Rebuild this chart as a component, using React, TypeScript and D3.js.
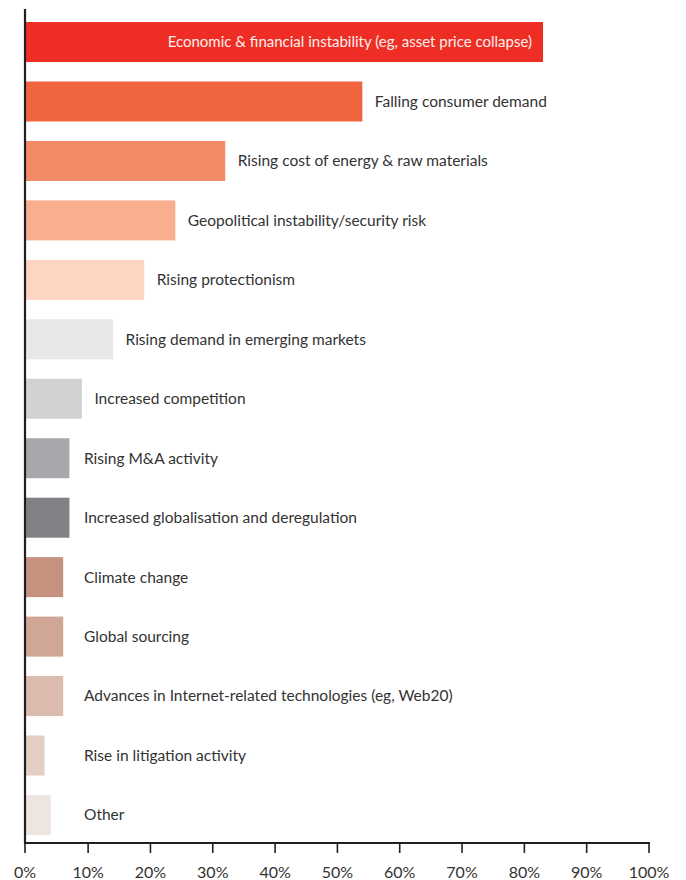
import React from "react";
import * as d3 from "d3";

const categories = [
  "Economic & financial instability (eg, asset price collapse)",
  "Falling consumer demand",
  "Rising cost of energy & raw materials",
  "Geopolitical instability/security risk",
  "Rising protectionism",
  "Rising demand in emerging markets",
  "Increased competition",
  "Rising M&A activity",
  "Increased globalisation and deregulation",
  "Climate change",
  "Global sourcing",
  "Advances in Internet-related technologies (eg, Web20)",
  "Rise in litigation activity",
  "Other",
];

const values = [83, 54, 32, 24, 19, 14, 9, 7, 7, 6, 6, 6, 3, 4];

const tickValues = [0, 10, 20, 30, 40, 50, 60, 70, 80, 90, 100];

const palette = [
  "#ee2e24",
  "#f06540",
  "#f38a66",
  "#f8ae8f",
  "#fdd5c2",
  "#e6e7e8",
  "#d1d2d4",
  "#a7a8ab",
  "#808184",
  "#c4927d",
  "#d0a796",
  "#dabbad",
  "#e4cdc2",
  "#eee4e0",
];

const W = 686;
const H = 880;
const FONT = "Lato, 'Noto Sans', sans-serif";

export default function App() {
  const x = d3.scaleLinear().domain([0, 100]).range([25.8, 649]);
  const y = d3
    .scaleBand<string>()
    .domain(categories)
    .range([22 - 9.73, 835 + 9.73])
    .paddingInner(0.327)
    .paddingOuter(0.164);

  const axisY = 843;
  const axisX = 25;

  return (
    <svg
      width={W}
      height={H}
      style={{ position: "absolute", left: 0, top: 0, background: "#fff" }}
      fontFamily={FONT}
    >
      {categories.map((c, i) => {
        const y0 = y(c)!;
        const bh = y.bandwidth();
        const xe = x(values[i]);
        const inside = i === 0;
        const lx = inside ? xe - 11 : Math.max(xe + 12.5, 84);
        return (
          <g key={c}>
            <rect x={axisX + 1} y={y0} width={xe - axisX - 1} height={bh} fill={palette[i]} />
            <text
              x={lx}
              y={y0 + bh / 2}
              dy="0.35em"
              fontSize={inside ? 15 : 15.5}
              textAnchor={inside ? "end" : "start"}
              fill={inside ? "#fdeeee" : "#333333"}
            >
              {c}
            </text>
          </g>
        );
      })}
      <line x1={axisX} x2={axisX} y1={9} y2={axisY + 1} stroke="#231f20" strokeWidth={2.2} />
      <line x1={axisX - 1} x2={x(100) + 1} y1={axisY} y2={axisY} stroke="#231f20" strokeWidth={2.2} />
      {tickValues.map((t) => {
        const tx = t === 0 ? axisX : x(t);
        return (
          <g key={t}>
            <line x1={tx} x2={tx} y1={axisY} y2={853} stroke="#231f20" strokeWidth={1.6} />
            <text x={tx} y={878} textAnchor="middle" fontSize={16} fill="#333333">
              {t}%
            </text>
          </g>
        );
      })}
    </svg>
  );
}
